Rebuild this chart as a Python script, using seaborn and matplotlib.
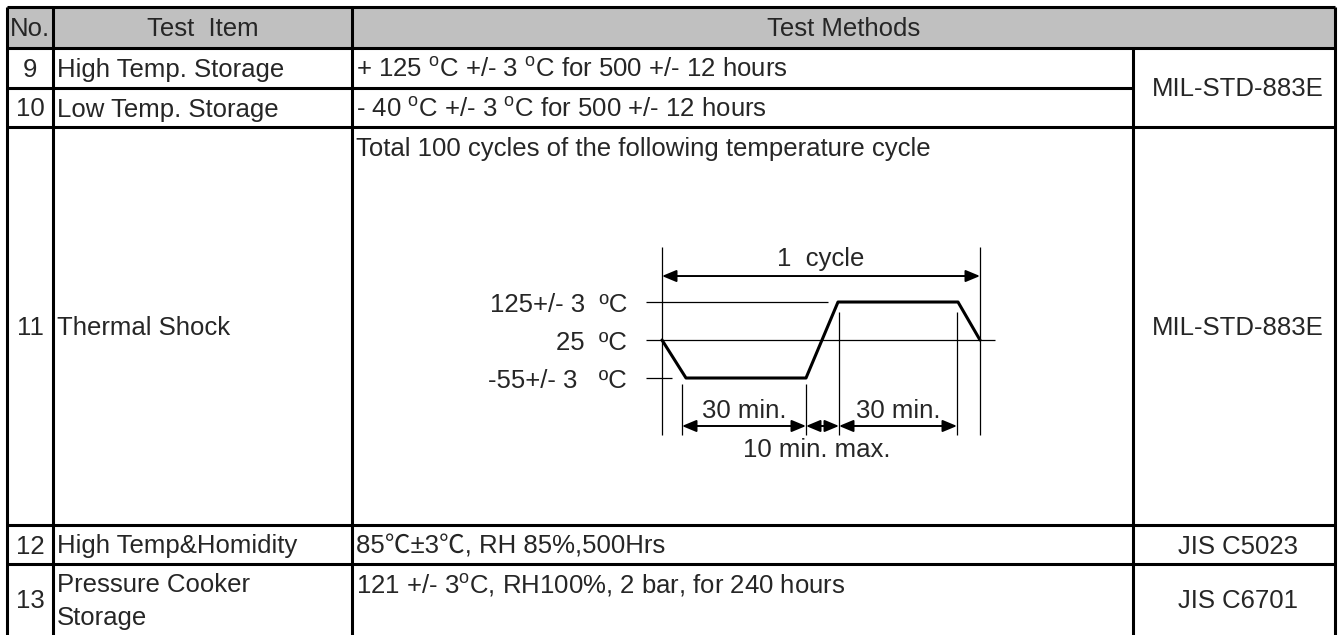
import numpy as np
import matplotlib
matplotlib.use("Agg")
import matplotlib.pyplot as plt
from matplotlib.patches import Rectangle
import seaborn as sns

sns.set_theme(style="white")
plt.rcParams['font.family'] = ['Liberation Sans', 'Noto Sans CJK JP', 'DejaVu Sans']
plt.rcParams['mathtext.fontset'] = 'custom'
plt.rcParams['mathtext.rm'] = 'Liberation Sans'
plt.rcParams['mathtext.it'] = 'Liberation Sans:italic'

# --- table content ---
header = ['No.', 'Test  Item', 'Test Methods']
test_no = ['9', '10', '11', '12', '13']
test_items = ['High Temp. Storage', 'Low Temp. Storage', 'Thermal Shock',
              'High Temp&Homidity', 'Pressure Cooker\nStorage']
test_methods = [r'+ 125 $^{\mathrm{o}}$C +/- 3 $^{\mathrm{o}}$C for 500 +/- 12 hours',
                r'- 40 $^{\mathrm{o}}$C +/- 3 $^{\mathrm{o}}$C for 500 +/- 12 hours',
                'Total 100 cycles of the following temperature cycle',
                '85℃±3℃, RH 85%,500Hrs',
                r'121 +/- 3$^{\mathrm{o}}$C, RH100%, 2 bar, for 240 hours']
standards = ['MIL-STD-883E', 'MIL-STD-883E', 'JIS C5023', 'JIS C6701']
standard_rows = [(0, 2), (2, 3), (3, 4), (4, 5)]

# --- thermal shock cycle (minutes vs temperature) ---
temp_levels = [-55, 25, 125]
level_labels = ['-55+/- 3   ºC', '25  ºC', '125+/- 3  ºC']
profile_time = [0, 6, 36, 44, 74, 79.5]
profile_temp = [25, -55, -55, 125, 125, 25]
cycle_label = '1  cycle'
dwell_label = '30 min.'
transfer_label = '10 min. max.'

# --- layout (pixels) ---
W, H = 1339, 635
col_x = [7, 53, 352, 1133, 1335]
row_y = [7, 48, 88, 127, 525, 564, 640]
FS = 18.5
LW = 2.2
base_off = 9

fig = plt.figure(figsize=(W / 100, H / 100), dpi=100)
ax = fig.add_axes([0, 0, 1, 1])
ax.set_xlim(0, W)
ax.set_ylim(H, 0)
ax.axis('off')

ax.add_patch(Rectangle((col_x[0], row_y[0]), col_x[-1] - col_x[0], row_y[1] - row_y[0],
                       facecolor='#c0c0c0', edgecolor='none', zorder=0))

ax.vlines([col_x[0], col_x[1], col_x[2], col_x[4]], row_y[0], row_y[-1], color='black', lw=LW)
ax.vlines(col_x[3], row_y[1], row_y[-1], color='black', lw=LW)
ax.hlines([row_y[0], row_y[1], row_y[3], row_y[4], row_y[5]], col_x[0], col_x[4], color='black', lw=LW)
ax.hlines(row_y[2], col_x[0], col_x[3], color='black', lw=LW)

hy = (row_y[0] + row_y[1]) / 2 + base_off
ax.text((col_x[0] + col_x[1]) / 2, hy, header[0], ha='center', va='baseline', fontsize=FS)
ax.text((col_x[1] + col_x[2]) / 2, hy, header[1], ha='center', va='baseline', fontsize=FS)
ax.text((col_x[2] + col_x[4]) / 2, hy, header[2], ha='center', va='baseline', fontsize=FS)

for i in range(len(test_no)):
    top, bot = row_y[i + 1], min(row_y[i + 2], H)
    cy = (top + bot) / 2 + base_off
    ax.text((col_x[0] + col_x[1]) / 2, cy, test_no[i], ha='center', va='baseline', fontsize=FS)
    lines = test_items[i].split('\n')
    y0 = cy - (len(lines) - 1) * 33 / 2
    for j, s in enumerate(lines):
        ax.text(col_x[1] + 4, y0 + j * 33, s, ha='left', va='baseline', fontsize=FS)
    my = top + 29 if len(lines) > 1 or i == 2 else cy
    ax.text(col_x[2] + 4, my, test_methods[i], ha='left', va='baseline', fontsize=FS)

for s, (r0, r1) in zip(standards, standard_rows):
    cy = (row_y[r0 + 1] + min(row_y[r1 + 1], H)) / 2 + base_off
    ax.text((col_x[3] + col_x[4]) / 2 + 4, cy, s, ha='center', va='baseline', fontsize=FS)

# --- cycle diagram in its own axes: x = minutes, y = temperature level ---
dl, dr, dt, db = 646, 1000, 240, 460
ax2 = fig.add_axes([dl / W, 1 - db / H, (dr - dl) / W, (db - dt) / H])
ax2.set_xlim(-4, 84.5)
ax2.set_ylim(-2.158, 3.632)
ax2.set_facecolor('none')
for sp in ax2.spines.values():
    sp.set_visible(False)

profile_level = [temp_levels.index(t) for t in profile_temp]
sns.lineplot(x=profile_time, y=profile_level, sort=False, estimator=None,
             color='black', lw=2.2, ax=ax2)
ax2.set_xlabel('')
ax2.set_ylabel('')
ax2.set_xticks([])
ax2.set_yticks(range(len(temp_levels)), level_labels)
ax2.tick_params(axis='y', length=0, pad=13.5, labelsize=FS)

thin = 0.9
x0 = ax2.get_xlim()[0]
ax2.hlines(2, x0, profile_time[3] - 2.5, color='black', lw=thin)
ax2.hlines(1, x0, profile_time[-1] + 3.8, color='black', lw=thin)
ax2.hlines(0, x0, profile_time[1] - 3.5, color='black', lw=thin)

ax2.vlines([profile_time[0], profile_time[-1]], -1.5, 3.447, color='black', lw=thin)
ax2.vlines([profile_time[1] - 1, profile_time[2]], -1.5, -0.158, color='black', lw=thin)
ax2.vlines([profile_time[3] + 0.25, profile_time[4] - 0.25], -1.5, 1.737, color='black', lw=thin)

arrow = dict(arrowstyle='<|-|>,head_length=0.72,head_width=0.3', mutation_scale=12,
             color='black', lw=1.4, shrinkA=0, shrinkB=0)
ax2.annotate('', xy=(profile_time[0], 2.684), xytext=(profile_time[-1], 2.684), arrowprops=arrow)
segs = [(profile_time[1] - 1, profile_time[2]), (profile_time[2], profile_time[3] + 0.25),
        (profile_time[3] + 0.25, profile_time[4] - 0.25)]
for a, b in segs:
    ax2.annotate('', xy=(a, -1.263), xytext=(b, -1.263), arrowprops=arrow)

ax2.text((profile_time[0] + profile_time[-1]) / 2, 2.947, cycle_label, ha='center', va='baseline', fontsize=FS)
ax2.text(sum(segs[0]) / 2, -1.053, dwell_label, ha='center', va='baseline', fontsize=FS)
ax2.text(sum(segs[2]) / 2, -1.053, dwell_label, ha='center', va='baseline', fontsize=FS)
ax2.text(sum(segs[1]) / 2 - 1.5, -2.079, transfer_label, ha='center', va='baseline', fontsize=FS)

fig.savefig('out.png', dpi=100)
